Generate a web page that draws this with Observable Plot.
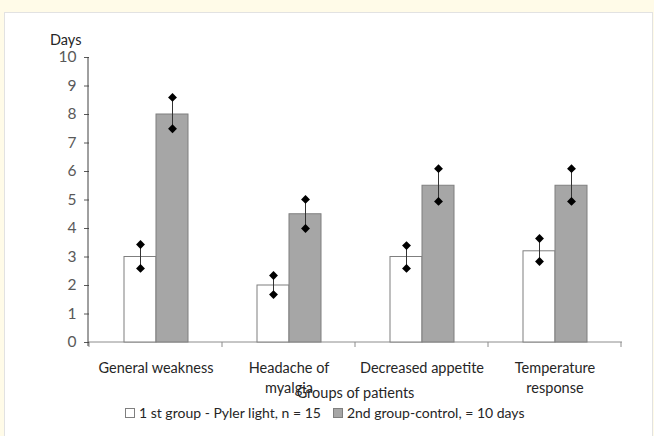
<!DOCTYPE html>
<html><head><meta charset="utf-8">
<script src="https://cdn.jsdelivr.net/npm/d3@7"></script>
<script src="https://cdn.jsdelivr.net/npm/@observablehq/plot@0.6"></script>
<style>
html,body{margin:0;padding:0;background:#fffbe8;}
#wrap{position:relative;width:654px;height:436px;overflow:hidden;font-family:Lato,"Open Sans",sans-serif;}
#panel{position:absolute;left:4px;top:12px;width:647px;height:440px;background:#fff;border:1px solid #e2e2e2;}
#chart{position:absolute;left:0;top:0;}
#days{position:absolute;left:50px;top:31px;font-size:14.5px;color:#262626;}
#legend{position:absolute;left:125px;top:404px;font-size:14px;color:#262626;white-space:nowrap;display:flex;align-items:center;}
.sw{display:inline-block;width:8px;height:8px;border:1px solid #7f7f7f;margin-right:4px;}
.item{display:inline-flex;align-items:center;margin-right:12px;}
</style>
</head><body>
<div id="wrap">
<div id="panel"></div>
<div id="chart"></div>
<div id="days">Days</div>
<div id="legend"></div>
</div>
<script>
const categories = ["General weakness", "Headache of myalgia", "Decreased appetite", "Temperature response"];
const tickLabels = ["General weakness", "Headache of\nmyalgia", "Decreased appetite", "Temperature\nresponse"];
const groups = ["1 st group - Pyler light, n = 15", "2nd group-control, = 10 days"];
const groupColors = ["#ffffff", "#a6a6a6"];
const group1 = [3, 2, 3, 3.2];
const group2 = [8, 4.5, 5.5, 5.5];
const group1Low = [2.6, 1.68, 2.6, 2.84];
const group1High = [3.44, 2.35, 3.4, 3.65];
const group2Low = [7.5, 4.0, 4.95, 4.95];
const group2High = [8.6, 5.02, 6.1, 6.1];
const yTicks = [0, 1, 2, 3, 4, 5, 6, 7, 8, 9, 10];

const rows = [];
categories.forEach((c, i) => {
  rows.push({category: c, group: groups[0], value: group1[i], low: group1Low[i], high: group1High[i]});
  rows.push({category: c, group: groups[1], value: group2[i], low: group2Low[i], high: group2High[i]});
});

const chart = Plot.plot({
  width: 654,
  height: 400,
  marginLeft: 88,
  marginRight: 32,
  marginTop: 57,
  marginBottom: 58,
  style: {fontFamily: "Lato, 'Open Sans', sans-serif", fontSize: "14px", background: "transparent", overflow: "visible"},
  fx: {domain: categories, padding: 0, axis: null},
  x: {domain: groups, paddingInner: 0, paddingOuter: 1.05, axis: null},
  y: {domain: [0, 10], axis: null},
  color: {domain: groups, range: groupColors},
  marks: [
    Plot.axisY(yTicks, {anchor: "left", tickSize: 5, tickPadding: 8, fontSize: 15.5, color: "#595959", label: null}),
    Plot.axisFx({anchor: "bottom", tickSize: 0, tickPadding: 16, fontSize: 14.5, lineHeight: 1.4, color: "#262626",
      tickFormat: d => tickLabels[categories.indexOf(d)],
      label: "Groups of patients", labelAnchor: "center", labelOffset: 55}),
    Plot.barY(rows, {fx: "category", x: "group", y: "value", fill: "group", stroke: "#7f7f7f", strokeWidth: 1}),
    Plot.ruleX(rows, {fx: "category", x: "group", y1: "low", y2: "high", stroke: "#333", strokeWidth: 1}),
    Plot.dot(rows, {fx: "category", x: "group", y: "low", symbol: "diamond2", fill: "black", r: 4}),
    Plot.dot(rows, {fx: "category", x: "group", y: "high", symbol: "diamond2", fill: "black", r: 4})
  ]
});
document.getElementById("chart").appendChild(chart);

// axis lines and category boundary ticks from the plot's own scales
const fx = chart.scale("fx");
const ys = chart.scale("y");
const svg = d3.select(chart);
const y0 = ys.apply(0);
const left = fx.range[0], right = fx.range[1];
const g = svg.insert("g", ":first-child");
g.append("line").attr("x1", left).attr("x2", right).attr("y1", y0).attr("y2", y0).attr("stroke", "#8c8c8c");
const bounds = [fx.apply(categories[0])].concat(categories.map(c => fx.apply(c) + fx.bandwidth));
bounds.forEach(b => g.append("line").attr("x1", b).attr("x2", b).attr("y1", y0).attr("y2", y0 + 5).attr("stroke", "#8c8c8c"));
svg.append("line").attr("x1", left).attr("x2", left).attr("y1", ys.apply(10)).attr("y2", y0 + 4).attr("stroke", "#404040");

// legend
const legend = d3.select("#legend");
groups.forEach((gname, i) => {
  const it = legend.append("span").attr("class", "item");
  it.append("span").attr("class", "sw").style("background", groupColors[i]);
  it.append("span").text(gname);
});
</script>
</body></html>
